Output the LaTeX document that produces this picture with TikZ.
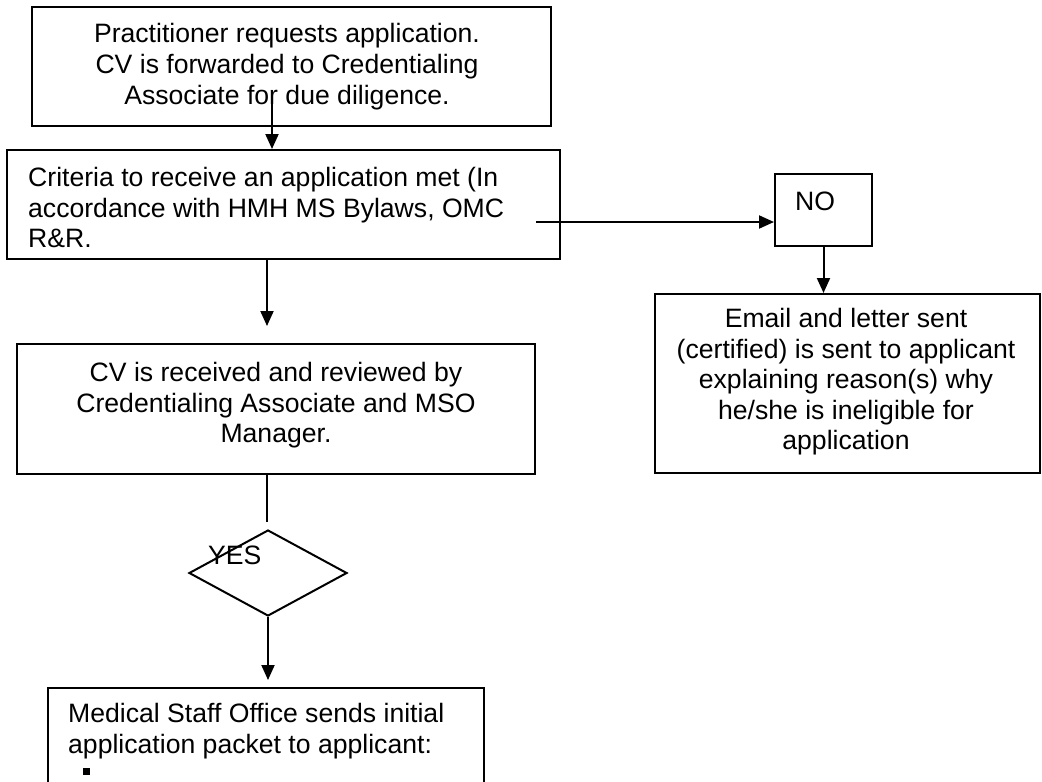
\documentclass[tikz,border=0pt]{standalone}
\usepackage{fontspec}
\setmainfont{Liberation Sans}
\usetikzlibrary{arrows.meta,shapes.geometric}
\newcommand\diagfont{\fontsize{26.6}{30.6}\selectfont}
\begin{document}
\begin{tikzpicture}[x=1pt,y=1pt,
  box/.style={draw, line width=2pt, inner sep=0pt, fill=white},
  txt/.style={font=\diagfont, inner sep=0pt},
  conn/.style={line width=2pt},
  arr/.style={line width=2pt, -{Triangle[length=15pt,width=13pt]}},
]
\useasboundingbox (0,0) rectangle (1042,-782);
\clip (0,0) rectangle (1042,-782);
\fill[white] (0,0) rectangle (1042,-782);

% boxes
\node[box, minimum width=519pt, minimum height=119pt] (b1) at (291.5,-66.5) {};
\node[box, minimum width=553pt, minimum height=109pt] (b2) at (283.5,-204.5) {};
\node[box, minimum width=97pt, minimum height=72pt] (no) at (823.5,-210) {};
\node[box, minimum width=385pt, minimum height=179pt] (em) at (847.5,-383.5) {};
\node[box, minimum width=518pt, minimum height=130pt] (b3) at (276,-409) {};
\node[box, diamond, minimum width=158pt, minimum height=86pt] (d) at (268,-573) {};
\node[box, minimum width=436pt, minimum height=212pt] (b4) at (266,-794) {};

% texts
\node[txt, anchor=north, align=center] (t1) at (287,-23.5)
  {Practitioner requests application.\\CV is forwarded to Credentialing\\Associate for due diligence.};
\node[txt, anchor=north west, align=left] (t2) at (28,-167)
  {Criteria to receive an application met (In\\accordance with HMH MS Bylaws, OMC\\R\&R.};
\node[txt, anchor=north west] (tno) at (795,-192) {NO};
\node[txt, anchor=north, align=center] (tem) at (846,-308)
  {Email and letter sent\\(certified) is sent to applicant\\explaining reason(s) why\\he/she is ineligible for\\application};
\node[txt, anchor=north, align=center] (t3) at (276,-362)
  {CV is received and reviewed by\\Credentialing Associate and MSO\\Manager.};
\node[txt, anchor=north west] (tyes) at (208,-546) {YES};
\node[txt, anchor=north west, align=left] (t4) at (68,-703)
  {Medical Staff Office sends initial\\application packet to applicant:};
\node[fill=black, minimum width=7pt, minimum height=7pt, inner sep=0pt] (bul) at (86,-771.5) {};

% connector end points
\coordinate (c1) at (272,-103);
\coordinate (c2) at (267,-326);
\coordinate (c3) at (536,-222);
\coordinate (c4) at (267,-522);
\coordinate (c5) at (268,-680);

% connectors
\draw[arr] (c1) -- (c1 |- b2.north);
\draw[arr] (c2 |- b2.south) -- (c2);
\draw[arr] (c3) -- (c3 -| no.west);
\draw[arr] (no.south) -- (no.south |- em.north);
\draw[conn] (c4 |- b3.south) -- (c4);
\draw[arr] (d.south) -- (c5);
\end{tikzpicture}
\end{document}
